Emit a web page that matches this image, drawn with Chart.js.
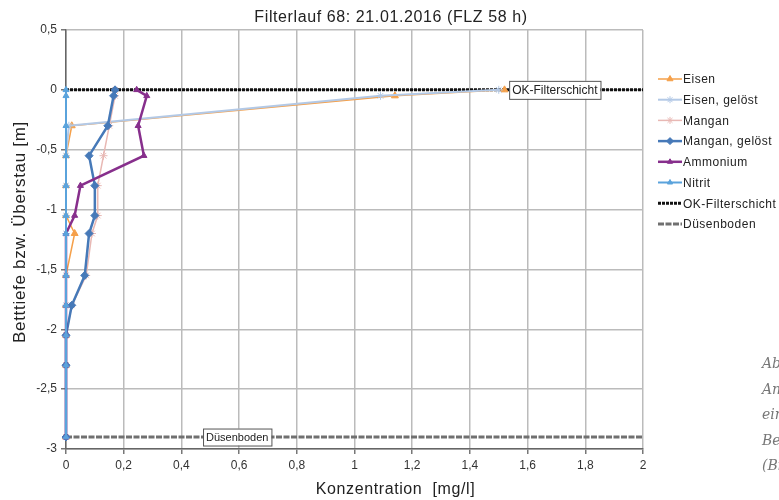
<!DOCTYPE html>
<html>
<head>
<meta charset="utf-8">
<script src="https://cdn.jsdelivr.net/npm/chart.js@4/dist/chart.umd.min.js"></script>
<style>
    body { margin: 0; background: #fff; overflow: hidden; }
    #wrap { position: relative; width: 779px; height: 500px; overflow: hidden; }
    #side { position: absolute; left: 762px; top: 351px; font-family: "DejaVu Serif", "Liberation Serif", serif; font-style: italic; font-size: 14px; color: #777; line-height: 25.5px; white-space: nowrap; }
</style>
</head>
<body>
<div id="wrap">
    <canvas id="chart" width="779" height="500"></canvas>
    <div id="side">Abb.<br>Analyse<br>eines<br>Betriebs<br>(Bild</div>
</div>
<script>
// --- DATA ---
const depths = [0, -0.05, -0.3, -0.55, -0.8, -1.05, -1.2, -1.55, -1.8, -2.05, -2.3, -2.9];
const eisen = [1.52, 1.14, 0.02, 0, 0, 0, 0.03, 0, 0, 0, 0, 0];
const eisenGeloest = [1.5, 1.09, 0.01, 0, 0, 0, 0, 0, 0, 0, 0, 0];
const mangan = [0.17, 0.17, 0.15, 0.13, 0.11, 0.11, 0.09, 0.07, 0.02, 0, 0, 0];
const manganGeloest = [0.17, 0.165, 0.145, 0.08, 0.1, 0.1, 0.08, 0.065, 0.02, 0, 0, 0];
const ammonium = [0.245, 0.28, 0.25, 0.27, 0.05, 0.03, 0, 0, 0, 0, 0, 0];
const nitrit = [0, 0, 0, 0, 0, 0, 0, 0, 0, 0, 0, 0];
const okFilterX = [0, 2];
const okFilterY = [0, 0];
const duesenX = [0, 2];
const duesenY = [-2.9, -2.9];
const xTicks = [0, 0.2, 0.4, 0.6, 0.8, 1, 1.2, 1.4, 1.6, 1.8, 2];
const yTicks = [0.5, 0, -0.5, -1, -1.5, -2, -2.5, -3];

const FONT = "'Liberation Sans', Arial, sans-serif";

function pts(xs, ys) { return xs.map((x, i) => ({ x: x, y: ys[i] })); }
function fmt(v) { return String(Number(v.toFixed(2))).replace('.', ','); }

// order: lower value is painted on top (Nitrit last in Excel = on top)
const series = [
    { label: 'Eisen', data: pts(eisen, depths), borderColor: '#f5a04a', backgroundColor: '#f5a04a', borderWidth: 1.5, pointStyle: 'triangle', pointRadius: 4, order: 5 },
    { label: 'Eisen, gelöst', data: pts(eisenGeloest, depths), borderColor: '#b3c9e6', backgroundColor: '#b3c9e6', borderWidth: 2, pointStyle: 'star', pointRadius: 4, order: 4 },
    { label: 'Mangan', data: pts(mangan, depths), borderColor: '#e8b8b4', backgroundColor: '#e8b8b4', borderWidth: 1.5, pointStyle: 'star', pointRadius: 4, order: 3 },
    { label: 'Mangan, gelöst', data: pts(manganGeloest, depths), borderColor: '#4679b8', backgroundColor: '#4679b8', borderWidth: 2.5, pointStyle: 'rectRot', pointRadius: 4, order: 2 },
    { label: 'Ammonium', data: pts(ammonium, depths), borderColor: '#872f8c', backgroundColor: '#872f8c', borderWidth: 2.5, pointStyle: 'triangle', pointRadius: 3.5, order: 1 },
    { label: 'Nitrit', data: pts(nitrit, depths), borderColor: '#5aa3dc', backgroundColor: '#5aa3dc', borderWidth: 2, pointStyle: 'triangle', pointRadius: 3.5, order: 0 },
    { label: 'OK-Filterschicht', data: pts(okFilterX, okFilterY), borderColor: '#111', backgroundColor: '#111', borderWidth: 3, borderDash: [3, 1], pointRadius: 0, order: 6 },
    { label: 'Düsenboden', data: pts(duesenX, duesenY), borderColor: '#707070', backgroundColor: '#707070', borderWidth: 3, borderDash: [6, 1.5], pointRadius: 0, order: 7 }
];
series.forEach(s => { s.fill = false; s.tension = 0; s.pointBorderWidth = 1; s.clip = 8; });

function spacedText(ctx, text, x, y, spacing) {
    ctx.letterSpacing = spacing + 'px';
    ctx.fillText(text, x, y);
    ctx.letterSpacing = '0px';
}

// titles, legend, line labels
const extras = {
    id: 'extras',
    afterDraw(chart) {
        const ctx = chart.ctx;
        const xs = chart.scales.x, ys = chart.scales.y;
        const area = chart.chartArea;
        ctx.save();

        // boxed labels on the reference lines
        function box(text, x, y, size) {
            ctx.font = size + 'px ' + FONT;
            const w = ctx.measureText(text).width + 6;
            const h = size + 6;
            ctx.fillStyle = '#fff';
            ctx.fillRect(x, y - h / 2, w, h);
            ctx.strokeStyle = '#555';
            ctx.lineWidth = 1;
            ctx.strokeRect(x + 0.5, y - h / 2 + 0.5, w, h);
            ctx.fillStyle = '#222';
            ctx.textBaseline = 'middle';
            ctx.textAlign = 'left';
            ctx.fillText(text, x + 3, y + 1);
        }
        box('OK-Filterschicht', xs.getPixelForValue(1.536), ys.getPixelForValue(0), 12);
        box('Düsenboden', xs.getPixelForValue(0.475), ys.getPixelForValue(-2.9), 11);

        ctx.fillStyle = '#222';
        ctx.textAlign = 'center';
        ctx.textBaseline = 'middle';

        // main title
        ctx.font = '16px ' + FONT;
        spacedText(ctx, 'Filterlauf 68: 21.01.2016 (FLZ 58 h)', 391, 18, 0.6);

        // x title
        ctx.font = '16px ' + FONT;
        spacedText(ctx, 'Konzentration  [mg/l]', (area.left + area.right) / 2 + 41, 490, 0.6);

        // y title
        ctx.save();
        ctx.translate(20, 232);
        ctx.rotate(-Math.PI / 2);
        ctx.font = '17px ' + FONT;
        spacedText(ctx, 'Betttiefe bzw. Überstau [m]', 0, 0, 0.7);
        ctx.restore();

        // legend
        const lx = 658, ly = 79, step = 20.7;
        chart.data.datasets.forEach((ds, i) => {
            const y = ly + i * step;
            ctx.strokeStyle = ds.borderColor;
            ctx.lineWidth = ds.borderWidth;
            ctx.setLineDash(ds.borderDash || []);
            ctx.beginPath();
            ctx.moveTo(lx, y);
            ctx.lineTo(lx + 24, y);
            ctx.stroke();
            ctx.setLineDash([]);
            if (ds.pointRadius > 0 && Chart.helpers && Chart.helpers.drawPoint) {
                ctx.fillStyle = ds.backgroundColor;
                ctx.strokeStyle = ds.borderColor;
                ctx.lineWidth = 1;
                Chart.helpers.drawPoint(ctx, { pointStyle: ds.pointStyle, radius: ds.pointRadius - 0.5, rotation: 0, borderWidth: 1 }, lx + 12, y);
            }
            ctx.font = '12px ' + FONT;
            ctx.fillStyle = '#222';
            ctx.textAlign = 'left';
            ctx.textBaseline = 'middle';
            spacedText(ctx, ds.label, lx + 25, y + 1, 0.5);
        });
        ctx.restore();
    }
};

new Chart(document.getElementById('chart'), {
    type: 'line',
    data: { datasets: series },
    plugins: [extras],
    options: {
        responsive: false,
        animation: false,
        layout: { padding: { left: 0, right: 136, top: 30, bottom: 0 } },
        plugins: {
            legend: { display: false },
            tooltip: { enabled: false },
            title: { display: false }
        },
        scales: {
            x: {
                type: 'linear',
                min: 0, max: 2,
                afterBuildTicks: s => { s.ticks = xTicks.map(v => ({ value: v })); },
                afterFit: s => { s.height = 51; },
                ticks: { color: '#333', font: { family: FONT, size: 12 }, padding: 4, maxRotation: 0, callback: v => fmt(v) },
                grid: { color: '#bbbbbb', lineWidth: 1.5, tickLength: 5, tickColor: '#777' },
                border: { color: '#666', width: 1.5 }
            },
            y: {
                type: 'linear',
                min: -3, max: 0.5,
                afterBuildTicks: s => { s.ticks = yTicks.map(v => ({ value: v })); },
                afterFit: s => { s.width = 66; },
                ticks: { color: '#333', font: { family: FONT, size: 12 }, padding: 4, callback: v => fmt(v) },
                grid: { color: '#bbbbbb', lineWidth: 1.5, tickLength: 5, tickColor: '#777' },
                border: { color: '#666', width: 1.5 }
            }
        }
    }
});
</script>
</body>
</html>
